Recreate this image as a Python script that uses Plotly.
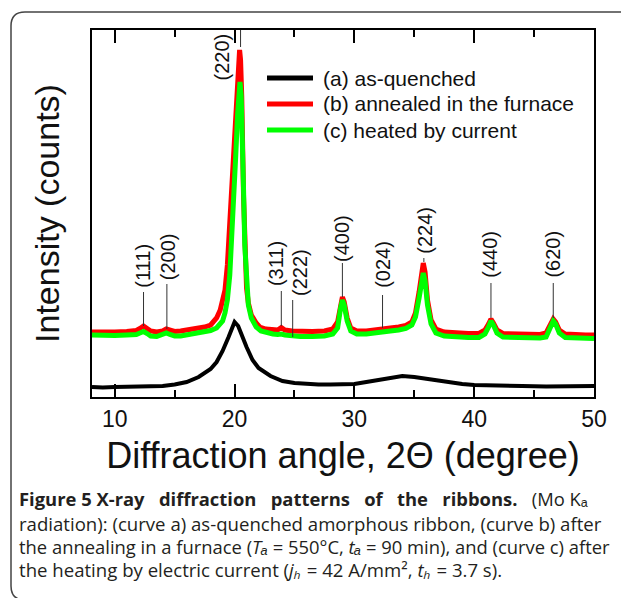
import plotly.graph_objects as go

# ---------------- data ----------------
two_theta_a = [8.1, 9, 10, 11, 12, 13, 14, 15, 16, 17,
               18, 18.5, 19, 19.5, 19.8, 20.0, 20.3, 20.6, 21, 21.5,
               22, 23, 24, 25, 26, 27, 28, 29, 30, 31,
               32, 33, 34, 35, 36, 37, 38, 39, 40, 42,
               44, 46, 48, 50]
intensity_a = [10, 9.5, 10, 10, 10, 10.5, 11, 12.5, 15, 20,
               28, 35, 46, 60, 70, 75, 71, 61, 50, 37,
               29, 21, 16, 14, 13, 12.5, 12.5, 12.5, 13, 15,
               17, 19, 21, 20, 18, 16, 14, 13, 12, 11,
               11, 10.5, 10.5, 11]

two_theta_b = [8.1, 9, 10, 11, 11.8, 12.1, 12.4, 12.7, 13.0, 13.5,
               14.0, 14.3, 14.6, 15.0, 15.5, 16, 16.5, 17, 17.5, 18,
               18.5, 18.8, 19.0, 19.2, 19.4, 19.55, 19.7, 19.85, 20.0, 20.2,
               20.32, 20.42, 20.5, 20.6, 20.75, 20.85, 21.0, 21.15, 21.4, 21.8,
               22.1, 22.6, 23.2, 23.6, 23.9, 24.2, 24.8, 25.5, 26.5, 27.5,
               28.2, 28.6, 28.85, 29.0, 29.15, 29.4, 29.7, 30.2, 31, 32,
               32.4, 33, 33.7, 34.3, 34.8, 35.1, 35.4, 35.6, 35.75, 35.9,
               36.1, 36.4, 36.8, 37.5, 38.5, 39.5, 40.4, 40.9, 41.2, 41.4,
               41.6, 41.9, 42.4, 43.5, 44.5, 45.5, 46.0, 46.3, 46.6, 46.8,
               47.1, 47.6, 48.5, 49.3, 50]
intensity_b = [65, 64.5, 65, 65.5, 66.5, 68.5, 71, 68.5, 66, 65,
               66, 68, 67, 65.5, 66, 67, 67.5, 69, 70, 72,
               79, 87, 95, 107, 132, 162, 200, 237, 267, 302,
               332, 347, 337, 300, 200, 147, 109, 94, 82, 74,
               70, 68, 67, 67, 69.5, 67, 66, 65.5, 65.5, 66,
               68, 75, 94, 100, 95, 79, 69, 66, 66, 67,
               68, 69, 70, 71.5, 75, 84, 105, 127, 134, 125,
               97, 77, 68, 65, 64, 63.5, 63.5, 67, 73, 78,
               74, 67, 63.5, 63, 62.5, 62.5, 64, 70, 78, 75,
               67, 63, 62, 62, 62]

two_theta_c = [8.1, 9, 10, 11, 11.8, 12.1, 12.4, 12.7, 13.0, 13.5,
               14.0, 14.3, 14.6, 15.0, 15.5, 16, 16.5, 17, 17.5, 18,
               18.5, 19.0, 19.2, 19.4, 19.6, 19.8, 19.95, 20.1, 20.25, 20.38,
               20.45, 20.55, 20.65, 20.75, 20.85, 21.0, 21.15, 21.4, 21.8, 22.2,
               22.7, 23.2, 23.6, 23.9, 24.2, 24.8, 25.5, 26.5, 27.5, 28.2,
               28.6, 28.85, 29.0, 29.15, 29.4, 29.7, 30.2, 31, 32, 32.4,
               33, 33.7, 34.3, 34.8, 35.1, 35.4, 35.6, 35.75, 35.9, 36.1,
               36.4, 36.8, 37.5, 38.5, 39.5, 40.4, 40.9, 41.2, 41.4, 41.6,
               41.9, 42.4, 43.5, 44.5, 45.5, 46.0, 46.3, 46.6, 46.8, 47.1,
               47.6, 48.5, 49.3, 50]
intensity_c = [62, 61.5, 61.5, 62, 62.5, 64, 65.5, 63.5, 61, 60.5,
               62, 64, 62.5, 61, 61, 62, 62.5, 63.5, 65, 66.5,
               69, 76, 84, 97, 122, 162, 202, 242, 282, 309,
               315, 302, 267, 207, 152, 112, 92, 79, 70, 66,
               64, 63, 62.5, 63, 62, 61, 60.5, 60.5, 61, 63,
               69, 89, 97, 92, 76, 66, 63, 63, 64, 65,
               66, 67, 68.5, 72, 80, 99, 118, 124, 116, 92,
               73, 64, 61, 60, 59.5, 59.5, 63, 70, 76, 72,
               64, 60, 59.5, 59, 59, 60, 67, 76, 73, 64,
               59.5, 59, 58.5, 58.5]

series_names = ["(a) as-quenched", "(b) annealed in the furnace", "(c) heated by current"]
series_colors = ["#000000", "#ff0000", "#00ff00"]

peak_labels = ["(111)", "(200)", "(220)", "(311)", "(222)", "(400)", "(024)", "(224)", "(440)", "(620)"]
peak_positions = [12.4, 14.35, 20.5, 23.9, 24.85, 29.0, 32.35, 35.8, 41.4, 46.6]
label_x = [12.33, 14.42, 18.95, 23.42, 25.42, 28.92, 32.33, 35.83, 41.25, 46.5]
label_y = [107, 115, 315, 109, 99, 133, 107, 141, 117, 117]
line_top = [105, 113, 367, 106, 97, 134, 102, 139, 114, 114]
line_bottom = [71, 68, 350, 71, 60, 100, 69, 135, 79, 79]

x_ticks = [10, 20, 30, 40, 50]
x_minor_ticks = [15, 25, 35, 45]

# ---------------- layout helpers ----------------
W, H = 621, 598
ML, MR, MT, MB = 92, 27, 30, 201
PW, PH = W - ML - MR, H - MT - MB


def pxx(x):
    return (x - ML) / PW


def pxy(y):
    return (H - MB - y) / PH


FONT = "Liberation Sans, Arial, sans-serif"

fig = go.Figure()
fig.add_trace(go.Scatter(x=two_theta_b, y=intensity_b, mode="lines", name=series_names[1],
                         line=dict(color=series_colors[1], width=5), showlegend=False))
fig.add_trace(go.Scatter(x=two_theta_c, y=intensity_c, mode="lines", name=series_names[2],
                         line=dict(color=series_colors[2], width=5), showlegend=False))
fig.add_trace(go.Scatter(x=two_theta_a, y=intensity_a, mode="lines", name=series_names[0],
                         line=dict(color=series_colors[0], width=4), showlegend=False))
# empty trace so the top (mirror) axis gets drawn
fig.add_trace(go.Scatter(x=[], y=[], xaxis="x2", yaxis="y", showlegend=False, hoverinfo="skip"))

shapes = []
annotations = []

# peak index connectors and labels
for lab, pos, lx, ly, lt, lb in zip(peak_labels, peak_positions, label_x, label_y, line_top, line_bottom):
    shapes.append(dict(type="line", xref="x", yref="y", x0=pos, x1=pos, y0=lb, y1=lt,
                       line=dict(color="#333333", width=1)))
    annotations.append(dict(x=lx, y=ly, xref="x", yref="y", text=lab, showarrow=False,
                            textangle=-90, xanchor="center", yanchor="bottom",
                            font=dict(family=FONT, size=20, color="#111111")))

# manual legend
legend_rows = [78, 104, 130]
for name, col, ry in zip(series_names, series_colors, legend_rows):
    shapes.append(dict(type="line", xref="paper", yref="paper", x0=pxx(267), x1=pxx(313),
                       y0=pxy(ry), y1=pxy(ry), line=dict(color=col, width=5)))
    annotations.append(dict(x=pxx(321), y=pxy(ry), xref="paper", yref="paper", text=name,
                            showarrow=False, xanchor="left", yanchor="middle",
                            font=dict(family=FONT, size=21, color="#111111")))

# outer rounded frame of the figure panel
fl, ft, fb, fr, rad = 11, 12, 600, 640, 14
path = (f"M {pxx(fr)},{pxy(ft)} L {pxx(fl + rad)},{pxy(ft)} "
        f"Q {pxx(fl)},{pxy(ft)} {pxx(fl)},{pxy(ft + rad)} "
        f"L {pxx(fl)},{pxy(fb - rad)} Q {pxx(fl)},{pxy(fb)} {pxx(fl + rad)},{pxy(fb)} "
        f"L {pxx(fr)},{pxy(fb)}")
shapes.append(dict(type="path", xref="paper", yref="paper", path=path,
                   line=dict(color="#444444", width=1.5)))

# caption (first line is justified in the original, hence the wider gaps)
CAP_FONT = "Open Sans, sans-serif"
G = " \u00a0\u00a0"
caption = [
    "<b>Figure 5 X-ray" + G + "diffraction" + G + "patterns" + G + "of" + G + "the" + G
    + "ribbons.</b>" + G + "(Mo K\u2090",
    "radiation): (curve a) as-quenched amorphous ribbon, (curve b) after",
    "the annealing in a furnace (<i>T\u2090</i> = 550°C, <i>t\u2090</i> = 90 min), and (curve c) after",
    "the heating by electric current (<i>j\u2095</i> = 42 A/mm\u00b2, <i>t\u2095</i> = 3.7 s).",
]
cap_y = [499, 523, 546, 569.5]
cap_size = [18.4, 18.6, 18.4, 18.6]
for txt, cy, cs in zip(caption, cap_y, cap_size):
    annotations.append(dict(x=pxx(17), y=pxy(cy), xref="paper", yref="paper", text=txt,
                            showarrow=False, xanchor="left", yanchor="middle",
                            font=dict(family=CAP_FONT, size=cs, color="#231f20")))

tick_style = dict(ticks="inside", ticklen=13, tickwidth=2, tickcolor="black")
minor_style = dict(tickvals=x_minor_ticks, ticks="inside", ticklen=7, tickwidth=2,
                   tickcolor="black", showgrid=False)

fig.update_layout(
    width=W, height=H,
    margin=dict(l=ML, r=MR, t=MT, b=MB, pad=0),
    paper_bgcolor="white", plot_bgcolor="white",
    showlegend=False,
    shapes=shapes, annotations=annotations,
    xaxis=dict(range=[8.1, 50], tickvals=x_ticks, ticktext=[str(v) for v in x_ticks],
               minor=minor_style, showline=True, linewidth=2, linecolor="black",
               mirror=True, showgrid=False, zeroline=False,
               tickfont=dict(family=FONT, size=23, color="#111111"),
               title=dict(text="Diffraction angle, 2Θ (degree)", standoff=12,
                          font=dict(family=FONT, size=36, color="#111111")),
               **tick_style),
    xaxis2=dict(range=[8.1, 50], overlaying="x", side="top", tickvals=x_ticks,
                showticklabels=False, minor=minor_style, showline=False,
                showgrid=False, zeroline=False, **tick_style),
    yaxis=dict(range=[0, 367], showticklabels=False, ticks="", showline=True, mirror=True,
               linewidth=2, linecolor="black", showgrid=False, zeroline=False,
               title=dict(text="Intensity (counts)", standoff=20,
                          font=dict(family=FONT, size=34, color="#111111"))),
)

fig.write_html("out.html")
